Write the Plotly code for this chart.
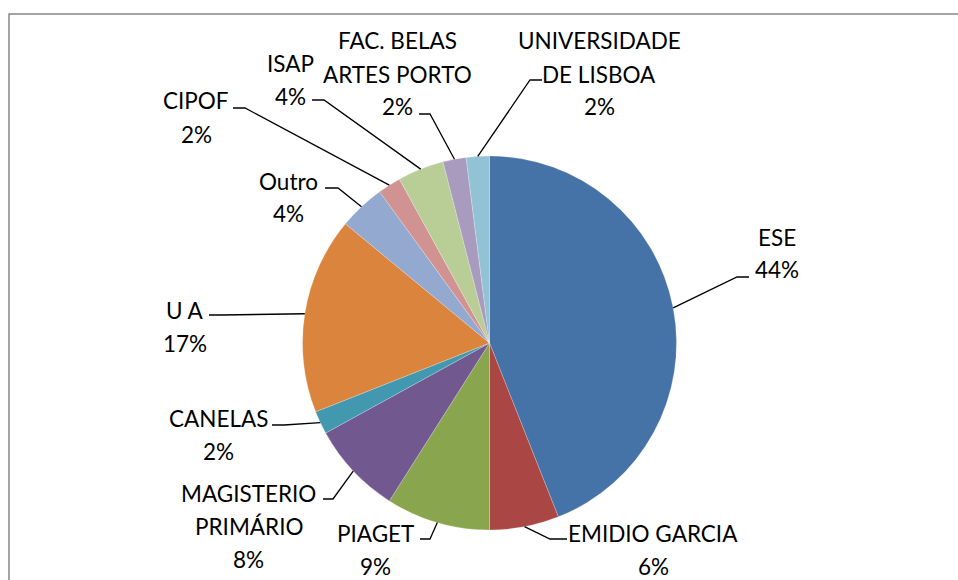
import math
import plotly.graph_objects as go

# ---- data ----
categories = ["ESE", "EMIDIO GARCIA", "PIAGET", "MAGISTERIO PRIMÁRIO", "CANELAS",
              "U A", "Outro", "CIPOF", "ISAP", "FAC. BELAS ARTES PORTO",
              "UNIVERSIDADE DE LISBOA"]
values = [44, 6, 9, 8, 2, 17, 4, 2, 4, 2, 2]
label_lines = [["ESE"], ["EMIDIO GARCIA"], ["PIAGET"], ["MAGISTERIO", "PRIMÁRIO"],
               ["CANELAS"], ["U A"], ["Outro"], ["CIPOF"], ["ISAP"],
               ["FAC. BELAS", "ARTES PORTO"], ["UNIVERSIDADE", "DE LISBOA"]]
colors = ["#4572A7", "#AA4643", "#89A54E", "#71588F", "#4198AF", "#DB843D",
          "#93A9CF", "#D19392", "#B9CD96", "#A99BBD", "#92C3D4"]

# ---- layout (pixels) ----
W, H = 958, 580
CX, CY, R = 489.5, 343.0, 187.0
FONT = "Lato"
FS = 22.5
PITCH = 33
# first-line centre of each label block
label_pos = [(777, 237), (653, 533), (375, 533), (249, 493), (218, 418),
             (185, 310), (288, 181), (196, 101), (290, 63), (397, 41), (599, 41)]
# leader line: elbow point, then stub end next to text
leader = [((737, 277), (749, 277)), ((550, 539), (567, 539)), ((430, 539), (420, 539)),
          ((333, 499), (323, 499)), ((284, 425), (272, 425)), ((221, 315), (209, 315)),
          ((338, 188), (325, 188)), ((245, 108), (233, 108)), ((324, 100), (312, 100)),
          ((430, 114), (419, 114)), ((530, 80), (542, 80))]


def px(x):
    return x / W


def py(y):
    return 1 - y / H


fig = go.Figure(go.Pie(
    labels=categories, values=values, sort=False, direction="clockwise", rotation=0,
    marker=dict(colors=colors, line=dict(color="rgba(255,255,255,0.45)", width=0.5)),
    textinfo="none", hoverinfo="label+percent", showlegend=False,
    domain=dict(x=[px(CX - R), px(CX + R)], y=[py(CY + R), py(CY - R)]),
))

annotations = []
shapes = []
total = sum(values)
cum = 0
for i, v in enumerate(values):
    mid = (cum + v / 2) / total * 2 * math.pi
    cum += v
    ex, ey = CX + R * math.sin(mid), CY - R * math.cos(mid)
    lines = label_lines[i] + [f"{round(v / total * 100)}%"]
    lx, ly = label_pos[i]
    for k, t in enumerate(lines):
        annotations.append(dict(x=px(lx), y=py(ly + k * PITCH), xref="paper", yref="paper",
                                text=t, showarrow=False, xanchor="center", yanchor="middle",
                                font=dict(family=FONT, size=FS, color="#000000")))
    (bx, by), (sx, sy) = leader[i]
    path = f"M {px(ex)} {py(ey)} L {px(bx)} {py(by)} L {px(sx)} {py(sy)}"
    shapes.append(dict(type="path", path=path, xref="paper", yref="paper",
                       line=dict(color="#000000", width=1.3)))

# chart-area border (top and left visible)
shapes.append(dict(type="path", xref="paper", yref="paper",
                   path=f"M {px(9)} {py(600)} L {px(9)} {py(14)} L {px(1000)} {py(14)}",
                   line=dict(color="#868686", width=1.5)))

fig.update_layout(width=W, height=H, margin=dict(l=0, r=0, t=0, b=0),
                  paper_bgcolor="white", plot_bgcolor="white",
                  annotations=annotations, shapes=shapes)
fig.write_html("out.html", config={"displayModeBar": False},
               post_script="document.body.style.margin='0px';")
